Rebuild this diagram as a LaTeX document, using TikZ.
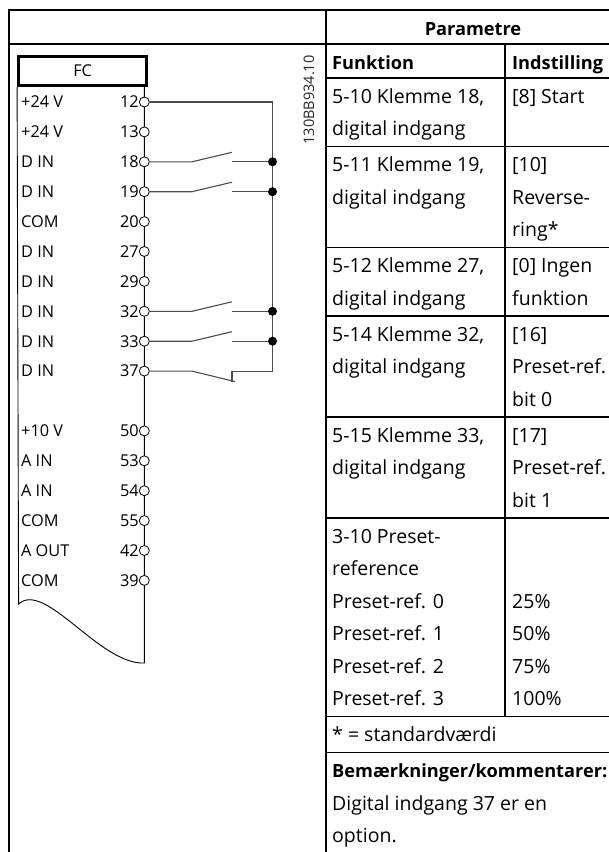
\documentclass[tikz,border=0pt]{standalone}
\usepackage{fontspec}
\setmainfont{Open Sans}
\usetikzlibrary{positioning}

\begin{document}
\begin{tikzpicture}[x=1pt, y=-1pt,
    frame/.style={line width=1.6pt},
    wire/.style={draw=black!70, line width=1.1pt},
    term/.style={circle, draw, fill=white, line width=0.8pt, inner sep=0pt, minimum size=10pt},
    junc/.style={circle, fill=black, inner sep=0pt, minimum size=9pt},
    pin/.style={inner sep=0pt, font=\fontsize{16.3}{18}\selectfont},
    cell/.style={anchor=base west, inner sep=0pt, font=\fontsize{19.5}{22}\selectfont},
    head/.style={cell, font=\fontsize{18.2}{22}\selectfont\bfseries}]

  \clip (0,0) rectangle (609,852);

  % table frame
  \draw[frame] (9,870) -- (9,10) -- (630,10);
  \draw[frame] (9,44) -- (630,44);
  \draw[frame] (326,10) -- (326,870);
  \foreach \y in {78,146.5,247.5,316,417,518,716.5,752.5}
    \draw[frame] (326,\y) -- (630,\y);
  \draw[frame] (505,44) -- (505,716.5);

  % frequency converter
  \node[draw, line width=3pt, minimum width=128pt, minimum height=29pt,
        inner sep=0pt, font=\fontsize{16.3}{18}\selectfont] (fc) at (82.6,71) {FC};
  \coordinate (tl) at (144.3,0);
  \coordinate (wstart) at (18.6,604);
  \coordinate (wend) at (144.3,663);
  \draw[line width=0.9pt] (fc.south west) -- (wstart)
    .. controls (45,580) and (100,665) .. (wend) -- (fc.south -| tl);

  \foreach \lab/\nr/\k in {+24 V/12/0, +24 V/13/1, D IN/18/2, D IN/19/3, COM/20/4,
      D IN/27/5, D IN/29/6, D IN/32/7, D IN/33/8, D IN/37/9, +10 V/50/11,
      A IN/53/12, A IN/54/13, COM/55/14, A OUT/42/15, COM/39/16} {
    \node[term] (t\nr) at (144.3, 102+29.9*\k) {};
    \node[pin, left=0pt of t\nr] (n\nr) {\nr};
    \node[pin, anchor=west] (l\nr) at (21, 102+29.9*\k) {\lab};
  }

  % switches
  \coordinate (swa) at (192,0);
  \coordinate (swb) at (232,0);
  \coordinate (bus) at (272.5,0);
  \draw[wire] (t12) -| (t37 -| bus) -- (t37 -| swb) -- ++(0,10.5);
  \draw[wire] (t37) -- (t37 -| swa) -- ++(43,10.5);
  \foreach \nr in {18,19,32,33} {
    \node[junc] (d\nr) at (t\nr -| bus) {};
    \draw[wire] (t\nr) -- (t\nr -| swa) -- ++(40,-9.5);
    \draw[wire] (t\nr -| swb) -- (d\nr);
  }

  \node[rotate=90, inner sep=0pt, text=black!85, font=\fontsize{14.5}{17}\selectfont]
    (code) at (309,100) {130BB934.10};

  % parameters
  \node[head, anchor=base] (par) at (473,35) {Parametre};
  \node[head] (fkt) at (332,69) {Funktion};
  \node[head] (ind) at (512,69) {Indstilling};

  \node[cell] (f18a) at (332,103) {5-10 Klemme 18,};
  \node[cell] (f18b) at (332,135.5) {digital indgang};
  \node[cell] (v18a) at (512,103) {[8] Start};

  \node[cell] (f19a) at (332,171.5) {5-11 Klemme 19,};
  \node[cell] (f19b) at (332,204) {digital indgang};
  \node[cell] (v19a) at (512,171.5) {[10]};
  \node[cell] (v19b) at (512,204) {Reverse-};
  \node[cell] (v19c) at (512,236.5) {ring*};

  \node[cell] (f27a) at (332,272.5) {5-12 Klemme 27,};
  \node[cell] (f27b) at (332,305) {digital indgang};
  \node[cell] (v27a) at (512,272.5) {[0] Ingen};
  \node[cell] (v27b) at (512,305) {funktion};

  \node[cell] (f32a) at (332,341) {5-14 Klemme 32,};
  \node[cell] (f32b) at (332,373.5) {digital indgang};
  \node[cell] (v32a) at (512,341) {[16]};
  \node[cell] (v32b) at (512,373.5) {Preset-ref.};
  \node[cell] (v32c) at (512,406) {bit 0};

  \node[cell] (f33a) at (332,442) {5-15 Klemme 33,};
  \node[cell] (f33b) at (332,474.5) {digital indgang};
  \node[cell] (v33a) at (512,442) {[17]};
  \node[cell] (v33b) at (512,474.5) {Preset-ref.};
  \node[cell] (v33c) at (512,507) {bit 1};

  \node[cell] (pra) at (332,543) {3-10 Preset-};
  \node[cell] (prb) at (332,575.5) {reference};
  \node[cell] (pr0) at (332,608) {Preset-ref. 0};
  \node[cell] (pr1) at (332,640.5) {Preset-ref. 1};
  \node[cell] (pr2) at (332,673) {Preset-ref. 2};
  \node[cell] (pr3) at (332,705.5) {Preset-ref. 3};
  \node[cell] (pv0) at (512,608) {25\%};
  \node[cell] (pv1) at (512,640.5) {50\%};
  \node[cell] (pv2) at (512,673) {75\%};
  \node[cell] (pv3) at (512,705.5) {100\%};

  \node[cell] (std) at (332,741.5) {* = standardværdi};
  \node[head] (bem) at (332,777.5) {Bemærkninger/kommentarer:};
  \node[cell] (noa) at (332,810) {Digital indgang 37 er en};
  \node[cell] (nob) at (332,842.5) {option.};

\end{tikzpicture}
\end{document}
